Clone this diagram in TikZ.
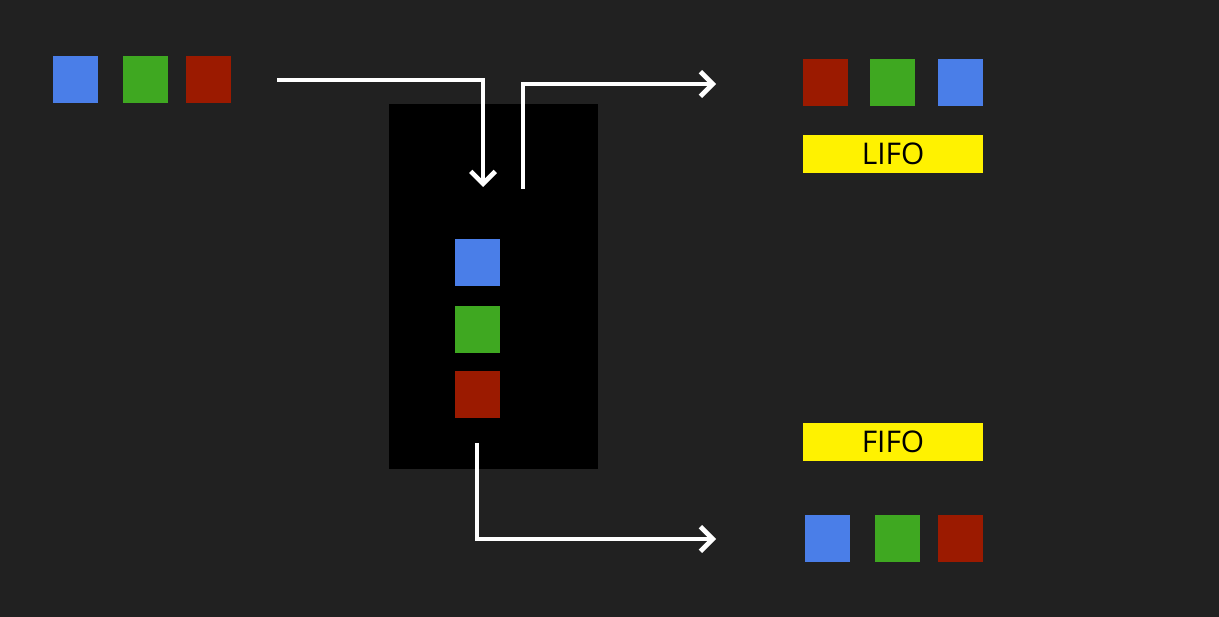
\documentclass[tikz,border=0pt]{standalone}
\usepackage{fontspec}
\setsansfont{Open Sans}
\usetikzlibrary{arrows.meta}
\definecolor{bg}{HTML}{212121}
\definecolor{qblue}{HTML}{4A7EE8}
\definecolor{qgreen}{HTML}{3FA821}
\definecolor{qred}{HTML}{9B1A00}
\begin{document}
\begin{tikzpicture}[
		x=0.02cm,y=-0.02cm,
		line width=2.7pt,
		>={Straight Barb[length=7pt,width=14pt]},
		item/.style={rectangle,inner sep=0pt,minimum width=0.9cm,minimum height=0.94cm},
		pb/.style={item,fill=qblue},pg/.style={item,fill=qgreen},pr/.style={item,fill=qred},
		tag/.style={rectangle,fill=yellow,inner sep=0pt,minimum width=3.6cm,minimum height=0.76cm,
			font=\sffamily\fontsize{17}{19}\selectfont,text=black}
		]
		\fill[bg] (0,0) rectangle (1219,617);
		\useasboundingbox (0,0) rectangle (1219,617);
		% input
		\node[pb](b0) at (75.5,79.5){};
		\node[pg](g0) at (145.5,79.5){};
		\node[pr](r0) at (208.5,79.5){};
		% container
		\node[rectangle,fill=black,inner sep=0pt,minimum width=4.18cm,minimum height=7.3cm](box) at (493.5,286.5){};
		\node[pb](b1) at (477.5,262.5){};
		\node[pg](g1) at (477.5,329.5){};
		\node[pr](r1) at (477.5,394.5){};
		% LIFO output
		\node[pr](r2) at (825.5,82.5){};
		\node[pg](g2) at (892.5,82.5){};
		\node[pb](b2) at (960.5,82.5){};
		\node[tag](lifo) at (893,154){LIFO};
		% FIFO output
		\node[tag](fifo) at (893,442){FIFO};
		\node[pb](b3) at (827.5,538.5){};
		\node[pg](g3) at (897.5,538.5){};
		\node[pr](r3) at (960.5,538.5){};
		
		\coordinate (in) at (277,80);
		\coordinate (push) at (483,187);
		\coordinate (pop) at (523,189);
		\coordinate (outl) at (716,84);
		\coordinate (deq) at (477,443);
		\coordinate (outf) at (716,539);
		\draw[->,white] (in) -| (push);
		\draw[->,white] (pop) |- (outl);
		\draw[->,white] (deq) |- (outf);
		
		\end{tikzpicture}
\end{document}
